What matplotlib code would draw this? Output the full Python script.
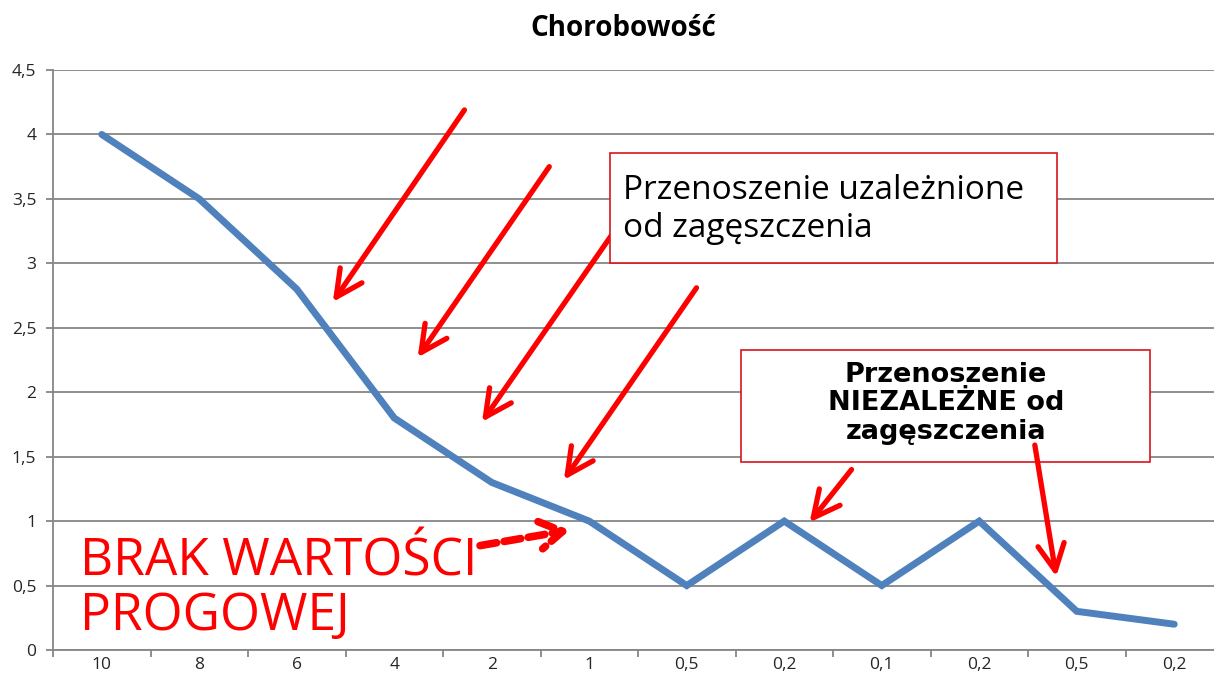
import matplotlib.pyplot as plt
from matplotlib.patches import Rectangle
import numpy as np

plt.rcParams['font.family'] = ['Open Sans', 'DejaVu Sans']

# Data
density = ['10', '8', '6', '4', '2', '1', '0,5', '0,2', '0,1', '0,2', '0,5', '0,2']
morbidity = [4.0, 3.5, 2.8, 1.8, 1.3, 1.0, 0.5, 1.0, 0.5, 1.0, 0.3, 0.2]
y_ticks = [0, 0.5, 1, 1.5, 2, 2.5, 3, 3.5, 4, 4.5]

RED = '#FF0000'
GRID = '#868686'

fig = plt.figure(figsize=(12.14, 6.84), dpi=100)
ax = fig.add_axes([53 / 1214, 34 / 684, 1170 / 1214, 580 / 684])

x = np.arange(len(density))
ax.plot(x, morbidity, color='#4F81BD', lw=5, solid_capstyle='round',
        solid_joinstyle='miter', zorder=3)

ax.set_xlim(-0.5, len(density) - 0.5)
ax.set_ylim(0, 4.5)

# y axis
ax.set_yticks(y_ticks)
ax.set_yticklabels([f'{v:g}'.replace('.', ',') for v in y_ticks])
ax.yaxis.grid(True, color=GRID, lw=1.3)
ax.set_axisbelow(True)

# x axis: tick marks between categories, labels in the middle
ax.set_xticks(np.arange(-0.5, len(density)), labels=[''] * (len(density) + 1))
ax.set_xticks(x, labels=density, minor=True)
ax.tick_params(axis='x', which='minor', length=0, pad=5, labelsize=12.5,
               labelcolor='#262626')
ax.tick_params(axis='x', which='major', length=5, color=GRID, width=1.3)
ax.tick_params(axis='y', length=5, color=GRID, width=1.3, pad=7, labelsize=12.5,
               labelcolor='#262626')

for s in ['top', 'right']:
    ax.spines[s].set_visible(False)
for s in ['left', 'bottom']:
    ax.spines[s].set_color(GRID)
    ax.spines[s].set_linewidth(1.3)

fig.text(0.513, 0.958, 'Chorobowość', ha='center', va='center',
         fontsize=20, fontweight='bold')

ARROW = dict(arrowstyle='->,head_length=1.0,head_width=0.5', mutation_scale=19,
             color=RED, lw=3.8, shrinkA=0, shrinkB=0)

# arrows pointing at the density-dependent part
arrows = [((3.72, 4.19), (2.37, 2.70)),
          ((4.59, 3.75), (3.24, 2.27)),
          ((5.23, 3.22), (3.90, 1.77)),
          ((6.10, 2.81), (4.74, 1.32)),
          ((7.69, 1.40), (7.26, 0.99))]
for start, end in arrows:
    ax.annotate('', xy=end, xytext=start, zorder=4, arrowprops=ARROW)

# box 1
ax.add_patch(Rectangle((0.476, 0.667), 0.382, 0.190, transform=ax.transAxes,
                       facecolor='white', edgecolor='#D9141E', lw=1.2, zorder=5))
ax.text(0.487, 0.760, 'Przenoszenie uzależnione\nod zagęszczenia',
        transform=ax.transAxes, ha='left', va='center', fontsize=24,
        linespacing=1.2, zorder=6)

# box 2
ax.add_patch(Rectangle((0.588, 0.324), 0.350, 0.193, transform=ax.transAxes,
                       facecolor='white', edgecolor='#D9141E', lw=1.2, zorder=5))
ax.text(0.763, 0.425, 'Przenoszenie\nNIEZALEŻNE od\nzagęszczenia',
        transform=ax.transAxes, ha='center', va='center', fontsize=19.5,
        fontweight='bold', family='DejaVu Sans', linespacing=1.13, zorder=6)

ax.annotate('', xy=(9.79, 0.57), xytext=(9.57, 1.59), zorder=7, arrowprops=ARROW)

# no threshold label
ax.text(0.023, 0.129, 'BRAK WARTOŚCI', transform=ax.transAxes, color=RED,
        fontsize=37, va='baseline', ha='left', zorder=6)
ax.text(0.023, 0.034, 'PROGOWEJ', transform=ax.transAxes, color=RED,
        fontsize=37, va='baseline', ha='left', zorder=6)
ax.annotate('', xy=(4.80, 0.93), xytext=(3.88, 0.81), zorder=6,
            arrowprops=dict(arrowstyle='->,head_length=0.9,head_width=0.55',
                            mutation_scale=18, color=RED, lw=5.5,
                            ls=(0, (2.2, 1.0)), shrinkA=0, shrinkB=0))

fig.savefig('out.png', dpi=100, facecolor='white')
